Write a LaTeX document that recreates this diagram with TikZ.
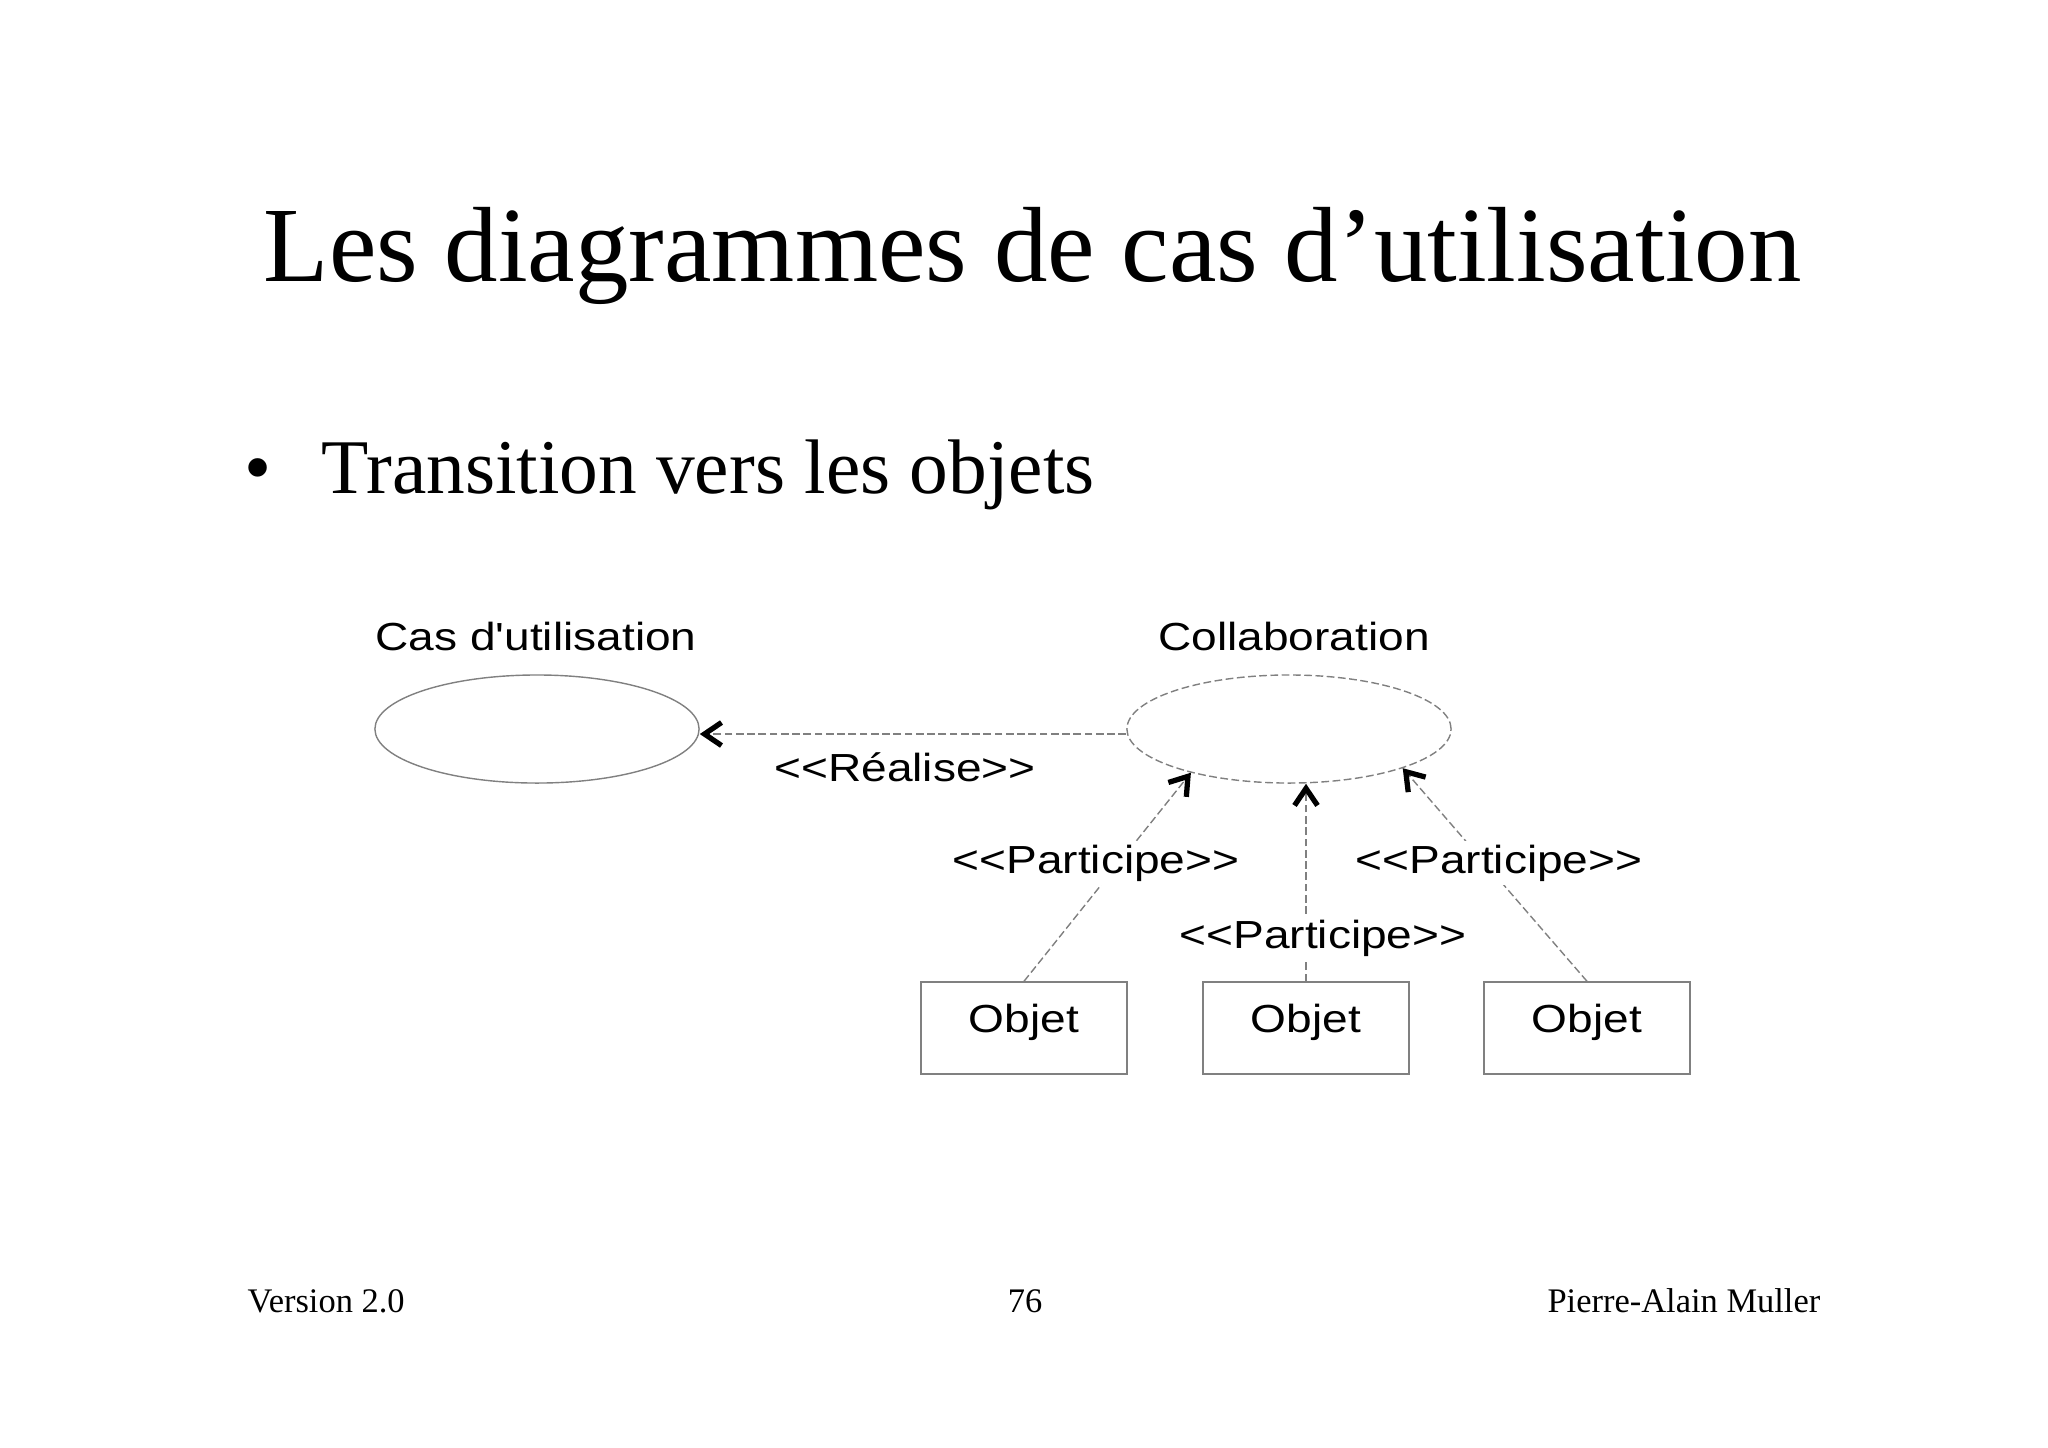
\documentclass[tikz,border=0pt]{standalone}
\usepackage{fontspec}
\usepackage{graphicx}
\setmainfont{Liberation Serif}
\newfontfamily\diagfont{Liberation Sans}
\usetikzlibrary{shapes.geometric,arrows.meta}
\definecolor{traitgris}{RGB}{128,128,128}
\newcommand{\etiq}[1]{\scalebox{1}[0.85]{#1}}
\tikzset{
	usecase/.style={ellipse,draw=traitgris,line width=0.4pt,minimum width=3.24cm,minimum height=1.08cm,inner sep=0pt},
	collab/.style={usecase,dash pattern=on 2.2pt off 1pt},
	objet/.style={rectangle,draw=traitgris,line width=0.4pt,minimum width=2.06cm,minimum height=0.92cm,inner sep=0pt,font=\diagfont\fontsize{13.1}{15}\selectfont,text depth=5.3pt},
	dep/.style={draw=traitgris,line width=0.4pt,dash pattern=on 2.2pt off 1pt,-{Straight Barb[length=0.17cm,width=0.23cm,line width=1.5pt,black]}},
	stereo/.style={font=\diagfont\fontsize{13.1}{15}\selectfont,fill=white,inner sep=1pt,anchor=base},
	nom/.style={font=\diagfont\fontsize{13.1}{15}\selectfont,inner sep=0pt,anchor=base},
	pied/.style={font=\fontsize{9.8}{11}\selectfont,inner sep=0pt}
}
\begin{document}
\begin{tikzpicture}[x=0.01cm,y=-0.01cm]
		\useasboundingbox (0,0) rectangle (2048,1447);
		\node[inner sep=0pt,anchor=base west,font=\fontsize{30.4}{36}\selectfont] (titre) at (263,281) {Les diagrammes de cas d’utilisation};
		\node[inner sep=0pt,anchor=base west,font=\fontsize{22}{26}\selectfont] (puce) at (244,493) {•};
		\node[inner sep=0pt,anchor=base west,font=\fontsize{22}{26}\selectfont] (point) at (321,493) {Transition vers les objets};
		\node[usecase] (cas) at (537,729) {};
		\node[collab] (collab) at (1289,729) {};
		\node[nom] (lcas) at (536,650) {\etiq{Cas d'utilisation}};
		\node[nom] (lcollab) at (1294,650) {\etiq{Collaboration}};
		\node[objet] (o1) at (1024,1028) {\etiq{Objet}};
		\node[objet] (o2) at (1306,1028) {\etiq{Objet}};
		\node[objet] (o3) at (1587,1028) {\etiq{Objet}};
		\draw[dep]([yshift=-0.05cm]collab.west)--([yshift=-0.05cm]cas.east);
		\draw[dep](o1.north)--(collab.204);
		\draw[dep](o2.north)--(o2.north|-collab.south);
		\draw[dep](o3.north)--(collab.341);
		\node[stereo] (lrealise) at (905,781) {\etiq{<<Réalise>>}};
		\node[stereo] (lpart1) at (1096,873) {\etiq{<<Participe>>}};
		\node[stereo] (lpart2) at (1323,948) {\etiq{<<Participe>>}};
		\node[stereo] (lpart3) at (1499,873) {\etiq{<<Participe>>}};
		\node[pied,anchor=base west] (version) at (247,1312) {Version 2.0};
		\node[pied,anchor=base] (page) at (1025,1312) {76};
		\node[pied,anchor=base east] (auteur) at (1821,1312) {Pierre-Alain Muller};
	\end{tikzpicture}
\end{document}
